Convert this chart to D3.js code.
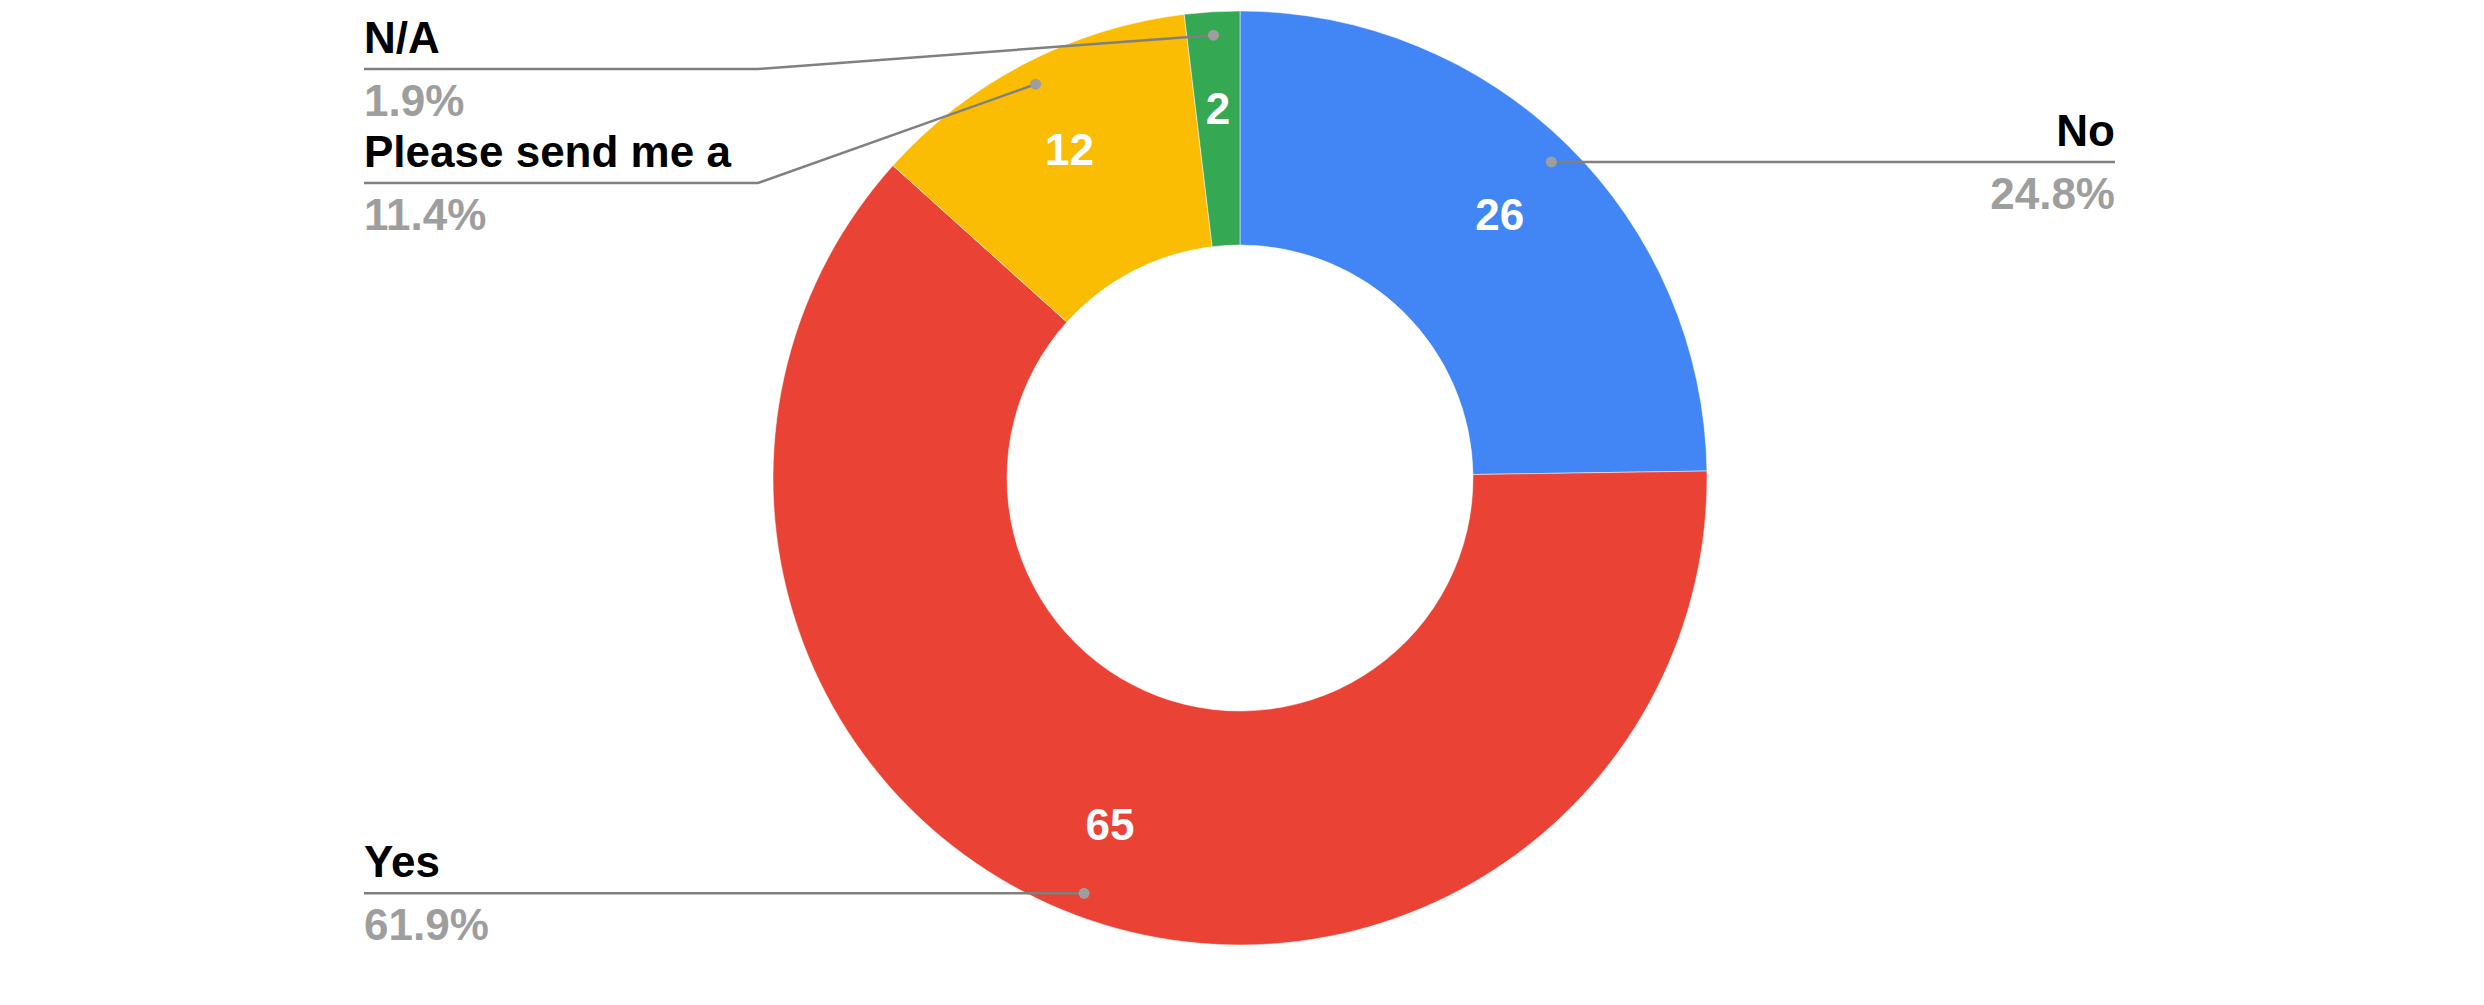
<!DOCTYPE html>
<html>
<head>
<meta charset="utf-8">
<script src="https://cdn.jsdelivr.net/npm/d3@7"></script>
<style>
  body { margin: 0; background: #ffffff; }
  text { font-family: "Liberation Sans", Arial, sans-serif; }
</style>
</head>
<body>
<div id="chart"></div>
<script>
// Datos del gráfico
const categorias = ["No", "Yes", "Please send me a", "N/A"];
const valores = [26, 65, 12, 2];
const colores = ["#4285f4", "#ea4335", "#fbbc04", "#34a853"];

// Dimensiones
const width = 2484;
const height = 1005;
const cx = 1240, cy = 478;
const rOuter = 467, rInner = 233;
const rDot = rOuter * 0.95;
const rValor = 370;
const fontSize = 44;

const svg = d3.select("#chart")
    .append("svg")
    .attr("width", width)
    .attr("height", height);

const total = d3.sum(valores);
const datos = categorias.map((c, i) => ({nombre: c, valor: valores[i], color: colores[i]}));

const pie = d3.pie().sort(null).value(d => d.valor);
const arcs = pie(datos);

const arc = d3.arc().innerRadius(rInner).outerRadius(rOuter);

const g = svg.append("g").attr("transform", `translate(${cx},${cy})`);

// Sectores
g.selectAll("path")
    .data(arcs)
    .enter()
    .append("path")
    .attr("d", arc)
    .style("fill", d => d.data.color)
    .style("stroke", "#ffffff")
    .style("stroke-width", 0.5);

// Valores dentro de los sectores
const arcValor = d3.arc().innerRadius(rValor).outerRadius(rValor);
g.selectAll("text.valor")
    .data(arcs)
    .enter()
    .append("text")
    .attr("class", "valor")
    .attr("transform", d => `translate(${arcValor.centroid(d)})`)
    .attr("text-anchor", "middle")
    .attr("dominant-baseline", "central")
    .style("fill", "#ffffff")
    .style("font-weight", "bold")
    .style("font-size", fontSize + "px")
    .text(d => d.data.valor);

// Etiquetas con líneas guía
const xIzq = 364, xDer = 2115;
const bendOff = 482;
const topMin = 69, sep = 114;

const etiquetas = arcs.map(d => {
    const a = (d.startAngle + d.endAngle) / 2;
    const dx = rDot * Math.sin(a);
    const dy = -rDot * Math.cos(a);
    return {d: d, a: a, dotX: cx + dx, dotY: cy + dy, lado: dx >= 0 ? "der" : "izq"};
});

// Colocar las etiquetas evitando solapes
["izq", "der"].forEach(lado => {
    const grupo = etiquetas.filter(e => e.lado === lado).sort((p, q) => p.dotY - q.dotY);
    let prev = -Infinity;
    grupo.forEach(e => {
        e.lineY = Math.max(e.dotY, topMin, prev + sep);
        prev = e.lineY;
    });
});

const capa = svg.append("g");

etiquetas.forEach(e => {
    const izq = e.lado === "izq";
    const bendX = izq ? cx - bendOff : cx + bendOff;
    const endX = izq ? xIzq : xDer;
    let puntos;
    if (izq) {
        puntos = [[e.dotX, e.dotY], [Math.min(bendX, e.dotX), e.lineY], [endX, e.lineY]];
    } else {
        puntos = [[e.dotX, e.dotY], [Math.max(bendX, e.dotX), e.lineY], [endX, e.lineY]];
    }
    capa.append("path")
        .attr("d", d3.line()(puntos))
        .style("fill", "none")
        .style("stroke", "#808080")
        .style("stroke-width", 2.5);

    capa.append("circle")
        .attr("cx", e.dotX)
        .attr("cy", e.dotY)
        .attr("r", 5.5)
        .style("fill", "#9e9e9e");

    capa.append("text")
        .attr("x", endX)
        .attr("y", e.lineY - 16)
        .attr("text-anchor", izq ? "start" : "end")
        .style("fill", "#000000")
        .style("font-weight", "bold")
        .style("font-size", fontSize + "px")
        .text(e.d.data.nombre);

    capa.append("text")
        .attr("x", endX)
        .attr("y", e.lineY + 47)
        .attr("text-anchor", izq ? "start" : "end")
        .style("fill", "#9e9e9e")
        .style("font-weight", "bold")
        .style("font-size", fontSize + "px")
        .text(d3.format(".1%")(e.d.data.valor / total));
});
</script>
</body>
</html>
